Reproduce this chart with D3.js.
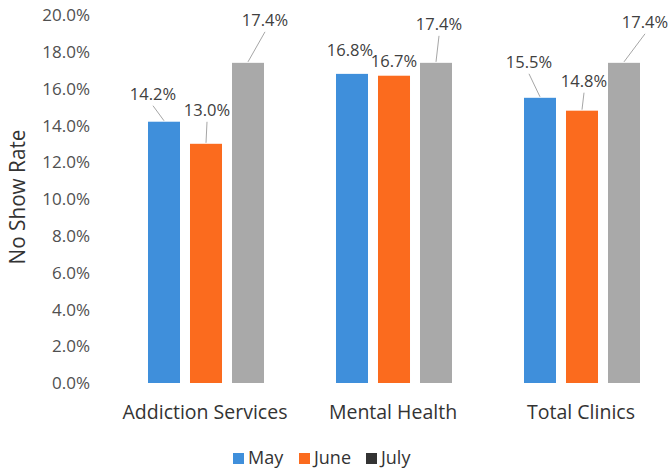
<!DOCTYPE html>
<html>
<head>
<meta charset="utf-8">
<script src="https://cdn.jsdelivr.net/npm/d3@7"></script>
<style>
  html, body { margin: 0; padding: 0; background: #fff; }
  svg { display: block; font-family: "Open Sans", sans-serif; }
</style>
</head>
<body>
<svg id="chart" width="670" height="474"></svg>
<script>
// ---- data ----
const categories = ["Addiction Services", "Mental Health", "Total Clinics"];
const seriesNames = ["May", "June", "July"];
const mayValues  = [14.2, 16.8, 15.5];
const juneValues = [13.0, 16.7, 14.8];
const julyValues = [17.4, 17.4, 17.4];
const yTicks = [0, 2, 4, 6, 8, 10, 12, 14, 16, 18, 20];

// label offsets (manual label placement as in source chart), px relative to bar center / bar top
const labelOffsets = [
  [[-11, -28], [1, -34], [17, -43]],
  [[-2, -24], [0, -15], [3, -39]],
  [[-11, -36], [2, -30], [21, -41]]
];

const seriesValues = [mayValues, juneValues, julyValues];
const barColors = ["#3f8fdb", "#fb6b1e", "#a9a9a9"];
const legendColors = ["#3f8fdb", "#fb6b1e", "#333333"];

const svg = d3.select("#chart");
const y = d3.scaleLinear().domain([0, 20]).range([383, 15]);
const x0 = d3.scaleBand().domain(categories).range([112, 676]).padding(0);
const x1 = d3.scaleBand().domain(seriesNames).range([0, x0.bandwidth()])
  .paddingInner(0.238).paddingOuter(0.857);

// y axis tick labels
svg.append("g").selectAll("text").data(yTicks).join("text")
  .attr("x", 90).attr("y", d => y(d))
  .attr("dy", "0.36em")
  .attr("text-anchor", "end")
  .attr("font-size", 17)
  .attr("fill", "#505050")
  .text(d => d3.format(".1f")(d) + "%");

// y axis title
svg.append("text")
  .attr("transform", "translate(18,197) rotate(-90)")
  .attr("text-anchor", "middle")
  .attr("dy", "0.35em")
  .attr("font-size", 21)
  .attr("textLength", 135)
  .attr("lengthAdjust", "spacingAndGlyphs")
  .attr("fill", "#333333")
  .text("No Show Rate");

// bars
const groups = svg.append("g").selectAll("g").data(categories).join("g")
  .attr("transform", d => `translate(${x0(d)},0)`);

groups.each(function(cat, ci) {
  const g = d3.select(this);
  seriesNames.forEach((s, si) => {
    const v = seriesValues[si][ci];
    const bx = x1(s), bw = x1.bandwidth();
    g.append("rect")
      .attr("x", bx).attr("y", y(v))
      .attr("width", bw).attr("height", y(0) - y(v))
      .attr("fill", barColors[si]);
    const [dx, dy] = labelOffsets[ci][si];
    const cx = bx + bw / 2;
    const lx = cx + dx, ly = y(v) + dy;
    const startY = ly + 12, endY = y(v) - 1;
    if (endY - startY > 14) {
      g.append("line")
        .attr("x1", lx).attr("y1", startY)
        .attr("x2", cx).attr("y2", endY)
        .attr("stroke", "#a6a6a6").attr("stroke-width", 1);
    }
    g.append("text")
      .attr("x", lx).attr("y", ly)
      .attr("dy", "0.36em")
      .attr("text-anchor", "middle")
      .attr("font-size", 16.5)
      .attr("fill", "#404040")
      .text(d3.format(".1f")(v) + "%");
  });
});

// category labels
svg.append("g").selectAll("text").data(categories).join("text")
  .attr("x", d => x0(d) + x0.bandwidth() / 2 - 1)
  .attr("y", 412)
  .attr("dy", "0.35em")
  .attr("text-anchor", "middle")
  .attr("font-size", 19.5)
  .attr("fill", "#333333")
  .text(d => d);

// legend
const legendX = [233, 299, 366];
const lg = svg.append("g").selectAll("g").data(seriesNames).join("g")
  .attr("transform", (d, i) => `translate(${legendX[i]},458)`);
lg.append("rect").attr("x", 0).attr("y", -5).attr("width", 11).attr("height", 11)
  .attr("fill", (d, i) => legendColors[i]);
lg.append("text").attr("x", 15).attr("y", 0).attr("dy", "0.35em")
  .attr("font-size", 18).attr("fill", "#333333")
  .text(d => d);
</script>
</body>
</html>
